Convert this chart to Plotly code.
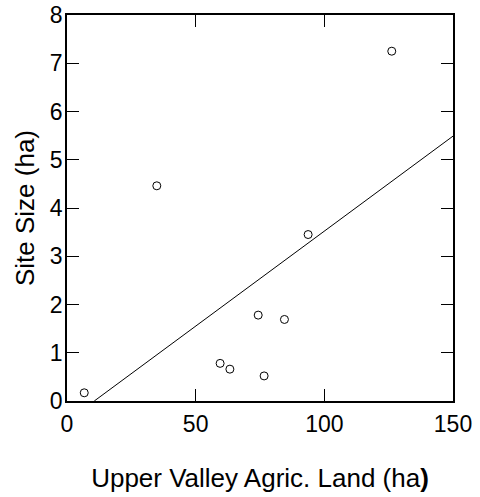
import plotly.graph_objects as go

# Data
agric_land = [6.7, 34.9, 59.5, 63.3, 74.3, 76.6, 84.5, 93.7, 126.2]
site_size = [0.17, 4.46, 0.78, 0.66, 1.78, 0.52, 1.69, 3.45, 7.25]
fit_x = [10.6, 150]
fit_y = [0.0, 5.49]

x_ticks = [0, 50, 100, 150]
y_ticks = [0, 1, 2, 3, 4, 5, 6, 7, 8]

font_family = "Liberation Sans, Arial, sans-serif"

fig = go.Figure()
fig.add_trace(go.Scatter(
    x=fit_x, y=fit_y, mode="lines",
    line=dict(color="black", width=1), showlegend=False, hoverinfo="skip"))
fig.add_trace(go.Scatter(
    x=agric_land, y=site_size, mode="markers",
    marker=dict(symbol="circle-open", size=8, color="black", line=dict(width=1)),
    showlegend=False))

axis_common = dict(
    showgrid=False, zeroline=False, showline=True, linecolor="black", linewidth=1.5,
    mirror="ticks", ticks="inside", ticklen=12, tickwidth=1, tickcolor="black",
    tickfont=dict(family=font_family, size=23, color="black"),
    automargin=False,
)

fig.update_layout(
    width=480, height=497,
    margin=dict(l=67, r=27, t=15, b=96),
    paper_bgcolor="white", plot_bgcolor="white",
    font=dict(family=font_family, color="black"),
    xaxis=dict(range=[0, 150], tickvals=x_ticks, ticklabelstandoff=2, **axis_common,
               title=dict(text="Upper Valley Agric. Land (ha<b>)</b>",
                          font=dict(family=font_family, size=26), standoff=32)),
    yaxis=dict(range=[0, 8], tickvals=y_ticks, ticklabelstandoff=-2, **axis_common,
               title=dict(text="Site Size (ha)",
                          font=dict(family=font_family, size=26), standoff=8)),
)

fig.write_html("out.html", post_script="document.body.style.margin='0';",
               config={"displayModeBar": False})
